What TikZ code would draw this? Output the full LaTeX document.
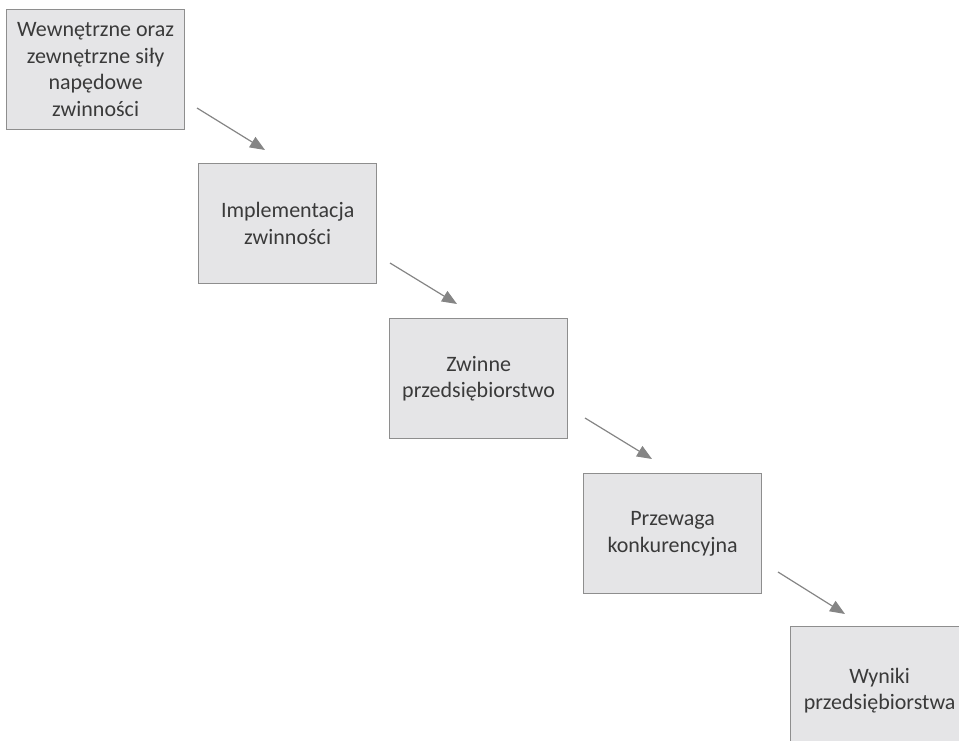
\documentclass[tikz,border=0pt]{standalone}
\usepackage{fontspec}
\setmainfont{Carlito}
\usetikzlibrary{arrows.meta}
\definecolor{boxfill}{HTML}{E5E5E7}
\definecolor{boxline}{HTML}{8E8E8E}
\definecolor{txt}{HTML}{3A3A3A}
\definecolor{arr}{HTML}{858585}
\begin{document}
\begin{tikzpicture}[x=1pt,y=-1pt,
  stagebox/.style={draw=boxline, line width=1.3pt, fill=boxfill, text=txt,
    minimum width=178pt, minimum height=120pt, inner sep=0pt, align=center,
    anchor=north west, font=\fontsize{22}{26.5}\selectfont},
  flowarrow/.style={draw=arr, line width=1.2pt, -{Triangle[length=15pt,width=12pt]}}]
\useasboundingbox (0,0) rectangle (959,741);
\clip (0,0) rectangle (959,741);
\node[stagebox] (b1) at (6,9) {Wewnętrzne oraz\\zewnętrzne siły\\napędowe\\zwinności};
\node[stagebox] (b2) at (198,163) {Implementacja\\zwinności};
\node[stagebox] (b3) at (389,318) {Zwinne\\przedsiębiorstwo};
\node[stagebox] (b4) at (583,473) {Przewaga\\konkurencyjna};
\node[stagebox, minimum height=128pt] (b5) at (790,626) {Wyniki\\przedsiębiorstwa};
\coordinate (a1s) at (197,108); \coordinate (a1e) at (265,150);
\coordinate (a2s) at (390,263); \coordinate (a2e) at (457,304);
\coordinate (a3s) at (585,418); \coordinate (a3e) at (652,459);
\coordinate (a4s) at (778,572); \coordinate (a4e) at (845,614);
\draw[flowarrow] (a1s) -- (a1e);
\draw[flowarrow] (a2s) -- (a2e);
\draw[flowarrow] (a3s) -- (a3e);
\draw[flowarrow] (a4s) -- (a4e);
\end{tikzpicture}
\end{document}
